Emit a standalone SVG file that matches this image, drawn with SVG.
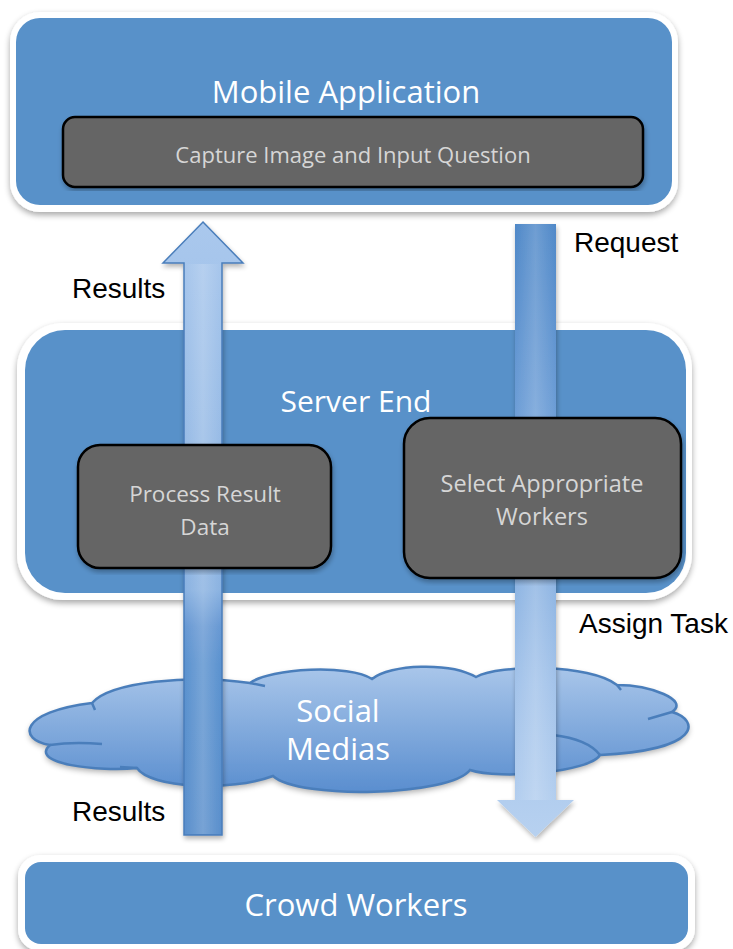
<svg xmlns="http://www.w3.org/2000/svg" width="733" height="949" viewBox="0 0 733 949">
  <defs>
    <filter id="shadow" x="-10%" y="-10%" width="120%" height="130%">
      <feGaussianBlur in="SourceAlpha" stdDeviation="3"/>
      <feOffset dx="0" dy="3" result="b"/>
      <feComponentTransfer><feFuncA type="linear" slope="0.35"/></feComponentTransfer>
      <feMerge><feMergeNode/><feMergeNode in="SourceGraphic"/></feMerge>
    </filter>
    <filter id="softShadow" x="-20%" y="-5%" width="140%" height="110%">
      <feGaussianBlur in="SourceAlpha" stdDeviation="2.5"/>
      <feOffset dx="1" dy="3" result="b"/>
      <feComponentTransfer><feFuncA type="linear" slope="0.3"/></feComponentTransfer>
      <feMerge><feMergeNode/><feMergeNode in="SourceGraphic"/></feMerge>
    </filter>
    <linearGradient id="cloudFill" x1="0" y1="0" x2="0" y2="1">
      <stop offset="0" stop-color="#a9c6ea"/>
      <stop offset="1" stop-color="#5a8ecf"/>
    </linearGradient>
    <linearGradient id="upFill" gradientUnits="userSpaceOnUse" x1="0" y1="222" x2="0" y2="835">
      <stop offset="0" stop-color="#aac8ed"/>
      <stop offset="0.6" stop-color="#8ab2e1"/>
      <stop offset="0.66" stop-color="#6798d3"/>
      <stop offset="0.72" stop-color="#5b92cf"/>
      <stop offset="1" stop-color="#5a8fcc"/>
    </linearGradient>
    <linearGradient id="downFill" gradientUnits="userSpaceOnUse" x1="0" y1="224" x2="0" y2="837">
      <stop offset="0" stop-color="#4f88c8"/>
      <stop offset="0.35" stop-color="#70a0d8"/>
      <stop offset="0.75" stop-color="#a3c3ea"/>
      <stop offset="1" stop-color="#b7d1f0"/>
    </linearGradient>
    <linearGradient id="shaftSheen" x1="0" y1="0" x2="1" y2="0">
      <stop offset="0" stop-color="#ffffff" stop-opacity="0"/>
      <stop offset="0.5" stop-color="#ffffff" stop-opacity="0.18"/>
      <stop offset="1" stop-color="#ffffff" stop-opacity="0"/>
    </linearGradient>
  </defs>
  <style>
    .frame { fill: #ffffff; filter: url(#shadow); }
    .panel { fill: #5891c9; }
    .task { fill: #656565; stroke: #000000; stroke-width: 2.5; filter: url(#softShadow); }
    .title { font-family: "Open Sans", "Noto Sans", sans-serif; fill: #ffffff; text-anchor: middle; }
    .taskText { font-family: "Open Sans", "Noto Sans", sans-serif; fill: #d6d6d6; text-anchor: middle; }
    .label { font-family: "Liberation Sans", Arial, sans-serif; font-size: 28px; fill: #000000; }
    .cloudEdge { fill: none; stroke: #4a7ebb; stroke-width: 2.5; }
  </style>

  <rect width="733" height="949" fill="#ffffff"/>

  <!-- Mobile application panel -->
  <g id="mobile-application">
    <rect class="frame" x="10" y="12" width="668" height="200" rx="30"/>
    <rect class="panel" x="16" y="18" width="656" height="187" rx="24"/>
    <text class="title" x="346" y="103" font-size="31">Mobile Application</text>
  </g>

  <!-- Server panel -->
  <g id="server-end">
    <rect class="frame" x="17" y="323" width="675" height="277" rx="46"/>
    <rect class="panel" x="25" y="330" width="661" height="263" rx="40"/>
    <text class="title" x="356" y="412" font-size="30">Server End</text>
  </g>

  <!-- Social media cloud -->
  <g id="social-medias">
    <path d="M92,703 C110,682 190,674 250,683 C270,668 350,664 372,679 C390,664 450,662 476,677 C500,664 590,664 617,685 C650,685 690,700 672,712 C700,720 702,750 600,755 C590,772 500,780 470,770 C450,796 300,800 273,776 C230,792 150,788 137,768 C100,772 28,764 50,745 C18,740 18,712 92,703 Z" fill="url(#cloudFill)" filter="url(#shadow)"/>
    <path class="cloudEdge" d="M92,703 C110,682 190,674 250,683 C270,668 350,664 372,679 C390,664 450,662 476,677 C500,664 590,664 617,685 C650,685 690,700 672,712 C700,720 702,750 600,755 C590,772 500,780 470,770 C450,796 300,800 273,776 C230,792 150,788 137,768 C100,772 28,764 50,745 C18,740 18,712 92,703 Z"/>
    <path class="cloudEdge" d="M92,703 L95,710 M250,683 L265,686 M617,685 L621,690 M672,712 L648,719 M600,755 C590,742 570,737 553,735 M137,768 L120,767 M50,745 C70,742 90,743 102,744"/>
    <text class="title" x="338" y="722" font-size="31">Social</text>
    <text class="title" x="338" y="760" font-size="31">Medias</text>
  </g>

  <!-- Crowd workers panel -->
  <g id="crowd-workers">
    <rect class="frame" x="18" y="855" width="677" height="96" rx="22"/>
    <rect class="panel" x="25" y="862" width="663" height="82" rx="16"/>
    <text class="title" x="356" y="916" font-size="31">Crowd Workers</text>
  </g>

  <!-- Flow arrows and their labels -->
  <g id="connectors">
    <g id="results-up" filter="url(#softShadow)">
      <path d="M203,222 L243,263 L222,263 L222,835 L184,835 L184,263 L163,263 Z" fill="url(#upFill)" stroke="#4a7ebb" stroke-width="1.5"/>
      <rect x="185" y="264" width="36" height="570" fill="url(#shaftSheen)"/>
    </g>
    <g id="request-down" filter="url(#softShadow)">
      <path d="M515,224 L556,224 L556,800 L574,800 L535.5,837 L497,800 L515,800 Z" fill="url(#downFill)"/>
      <rect x="515" y="224" width="41" height="576" fill="url(#shaftSheen)"/>
    </g>
    <text class="label" x="574" y="252">Request</text>
    <text class="label" x="72" y="298">Results</text>
    <text class="label" x="579" y="633">Assign Task</text>
    <text class="label" x="72" y="821">Results</text>
  </g>

  <!-- Task boxes -->
  <g id="capture-input">
    <rect class="task" x="63" y="117" width="580" height="70" rx="12"/>
    <text class="taskText" x="353" y="163" font-size="22">Capture Image and Input Question</text>
  </g>
  <g id="process-result">
    <rect class="task" x="78" y="445" width="253" height="123" rx="22"/>
    <text class="taskText" x="205" y="502" font-size="22.5">Process Result</text>
    <text class="taskText" x="205" y="535" font-size="22.5">Data</text>
  </g>
  <g id="select-workers">
    <rect class="task" x="404" y="418" width="277" height="160" rx="26"/>
    <text class="taskText" x="542" y="492" font-size="23.5">Select Appropriate</text>
    <text class="taskText" x="542" y="525" font-size="23.5">Workers</text>
  </g>
</svg>
